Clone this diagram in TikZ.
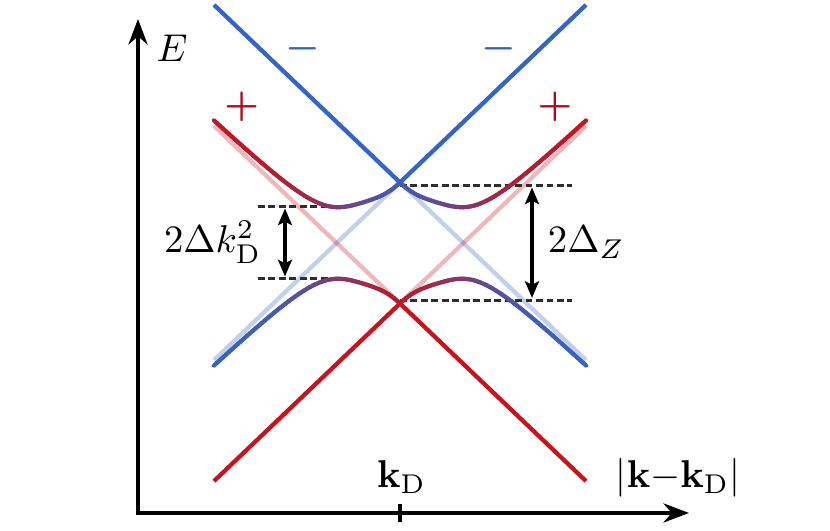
\documentclass[tikz,border=0pt]{standalone}
\usepackage{bm}
\usetikzlibrary{arrows.meta}
\definecolor{cR}{RGB}{200,18,30}
\definecolor{cB}{RGB}{52,100,196}
\definecolor{cRd}{RGB}{178,8,28}
\definecolor{dashgray}{RGB}{45,45,45}
\tikzset{
  axisline/.style={line width=0.8pt, black},
  solidline/.style={line width=1.1pt},
  bandline/.style={line width=1.1pt, line cap=round},
  fadedline/.style={line width=1.1pt, opacity=0.3},
  gapdash/.style={line width=0.9pt, dashgray, dash pattern=on 1.75pt off 0.95pt},
  gaparrow/.style={line width=0.8pt, {Stealth[length=4.3pt,width=3.6pt,inset=0.9pt]}-{Stealth[length=4.3pt,width=3.6pt,inset=0.9pt]}},
  lbl/.style={inner sep=0pt, outer sep=0pt},
}
\begin{document}
\begin{tikzpicture}[x=0.258pt, y=-0.258pt,
  declare function={
    ff(\u)=1-exp(-(\u/0.3)^2);
    dd(\u)=0.955*abs(\u)-0.605;
    EE(\u)=sqrt(dd(\u)^2+0.1296*ff(\u));
    rr(\u)=50*(1+tanh(dd(\u)/0.6));
  }]
\useasboundingbox (0,0) rectangle (830,531);

% cone coordinates
\coordinate (bA) at (400,182.5);
\coordinate (rA) at (400,303.5);
\coordinate (bUL) at (214,4.9);   \coordinate (bUR) at (586,4.9);
\coordinate (bLL) at (214,360.1); \coordinate (bLR) at (586,360.1);
\coordinate (rUL) at (214,125.9); \coordinate (rUR) at (586,125.9);
\coordinate (rLL) at (214,481.1); \coordinate (rLR) at (586,481.1);

% faded diabatic lines
\draw[fadedline, cB] (bLL) -- (bA) -- (bLR);
\draw[fadedline, cR] (rUL) -- (rA) -- (rUR);

% dashed guide lines
\coordinate (dL1a) at (258,206.5); \coordinate (dL1b) at (340,206.5);
\coordinate (dL2a) at (258,278.5); \coordinate (dL2b) at (340,278.5);
\coordinate (dR1a) at (400,185.5); \coordinate (dR1b) at (572,185.5);
\coordinate (dR2a) at (400,300.5); \coordinate (dR2b) at (572,300.5);
\draw[gapdash] (dL1a) -- (dL1b);
\draw[gapdash] (dL2a) -- (dL2b);
\draw[gapdash] (dR1a) -- (dR1b);
\draw[gapdash] (dR2a) -- (dR2b);

% solid cone arms
\draw[solidline, cB] (bUL) -- (bA) -- (bUR);
\draw[solidline, cR] (rLL) -- (rA) -- (rLR);

% hybridised bands with colour gradient
\foreach \i in {0,...,123}{
  \pgfmathsetmacro\ua{-1.86+0.03*\i}
  \pgfmathsetmacro\ub{\ua+0.03}
  \pgfmathsetmacro\xa{400+100*\ua}
  \pgfmathsetmacro\xb{400+100*\ub}
  \pgfmathsetmacro\Ea{100*EE(\ua)}
  \pgfmathsetmacro\Eb{100*EE(\ub)}
  \pgfmathtruncatemacro\rf{rr((\ua+\ub)/2)}
  \draw[bandline, cR!\rf!cB] (\xa,243-\Ea) -- (\xb,243-\Eb);
  \draw[bandline, cB!\rf!cR] (\xa,243+\Ea) -- (\xb,243+\Eb);
}

% gap arrows
\coordinate (gL1) at (285,208.5); \coordinate (gL2) at (285,276.5);
\coordinate (gR1) at (532,187.5); \coordinate (gR2) at (532,298);
\draw[gaparrow] (gL1) -- (gL2);
\draw[gaparrow] (gR1) -- (gR2);

% axes
\coordinate (O) at (138,513);
\coordinate (yT) at (138,19);
\coordinate (xT) at (689,513);
\draw[axisline, {Stealth}-{Stealth}] (yT) -- (O) -- (xT);
\coordinate (tk1) at (400,504); \coordinate (tk2) at (400,522);
\draw[axisline] (tk1) -- (tk2);

% labels
\node[lbl] (lE) at (172,48.5) {$E$};
\node[lbl, anchor=base west] (lgapk) at (164,253) {$2\Delta k_{\mathrm{D}}^2$};
\node[lbl, anchor=base west] (lgapz) at (548,253) {$2\Delta_Z$};
\node[lbl, anchor=base] (lkD) at (401.5,488) {$\mathbf{k}_{\mathrm{D}}$};
\node[lbl, anchor=base west] (lk) at (616,488) {$|\mathbf{k}{-}\mathbf{k}_{\mathrm{D}}|$};

\node[lbl, text=cRd] (pL) at (241.7,106.7) {$\bm{+}$};
\node[lbl, text=cRd] (pR) at (555,106.7) {$\bm{+}$};
\node[lbl, text=cB] (mL) at (303,49) {$\bm{-}$};
\node[lbl, text=cB] (mR) at (499,49) {$\bm{-}$};
\end{tikzpicture}
\end{document}
